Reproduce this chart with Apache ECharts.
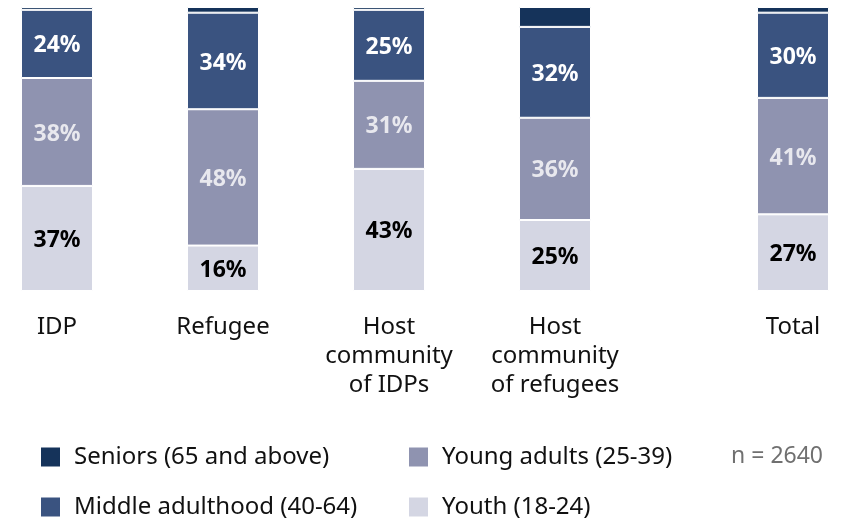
<!DOCTYPE html>
<html>
<head>
<meta charset="utf-8">
<script src="https://cdn.jsdelivr.net/npm/echarts@6/dist/echarts.min.js"></script>
<style>
  html, body { margin: 0; padding: 0; background: #fff; }
  #chart { width: 846px; height: 523px; }
</style>
</head>
<body>
<div id="chart"></div>
<script>
// Age group shares (%) per population group
const groups = ['IDP', 'Refugee', 'Host\ncommunity\nof IDPs', 'Host\ncommunity\nof refugees'];
const totalGroup = ['Total'];
const seniors = [1, 2, 1, 7, 2];
const middle = [24, 34, 25, 32, 30];
const youngAdults = [38, 48, 31, 36, 41];
const youth = [37, 16, 43, 25, 27];
const sampleNote = 'n = 2640';

const seriesDefs = [
  { name: 'Youth (18-24)', values: youth, color: '#d4d6e3', labelColor: '#000000', showLabel: true },
  { name: 'Young adults (25-39)', values: youngAdults, color: '#8f93b0', labelColor: '#e8e8ee', showLabel: true },
  { name: 'Middle adulthood (40-64)', values: middle, color: '#3a5380', labelColor: '#ffffff', showLabel: true },
  { name: 'Seniors (65 and above)', values: seniors, color: '#15335a', labelColor: '#ffffff', showLabel: false }
];

const FONT = 'Noto Sans';

function makeSeries(gridIdx, from, to) {
  return seriesDefs.map(d => ({
    name: d.name,
    type: 'bar',
    stack: 'age' + gridIdx,
    xAxisIndex: gridIdx,
    yAxisIndex: gridIdx,
    barWidth: 72,
    data: d.values.slice(from, to),
    itemStyle: { color: d.color, borderColor: '#ffffff', borderWidth: 1 },
    label: {
      show: d.showLabel,
      position: 'inside',
      offset: [0, 2],
      formatter: p => p.value + '%',
      color: d.labelColor,
      fontFamily: FONT,
      fontWeight: 'bold',
      fontSize: 23
    },
    emphasis: { disabled: true }
  }));
}

const axisLabelStyle = {
  fontFamily: FONT,
  fontSize: 24,
  lineHeight: 29,
  color: '#111111',
  margin: 22,
  interval: 0
};

// one legend entry per box so the two-column layout is explicit
function legendItem(name, left, top) {
  return {
    orient: 'vertical',
    left: left,
    top: top,
    padding: 0,
    itemWidth: 21,
    itemHeight: 21,
    icon: 'rect',
    selectedMode: false,
    data: [name],
    textStyle: { fontFamily: FONT, fontSize: 24, color: '#111111', padding: [0, 0, 0, 8] }
  };
}

const chart = echarts.init(document.getElementById('chart'), null, { renderer: 'canvas' });
chart.setOption({
  animation: false,
  backgroundColor: '#ffffff',
  grid: [
    { left: 57, right: 291, top: 7, bottom: 232 },
    { left: 753, right: 13, top: 7, bottom: 232 }
  ],
  xAxis: [
    {
      type: 'category', gridIndex: 0, data: groups, boundaryGap: false,
      axisLine: { show: false }, axisTick: { show: false }, axisLabel: axisLabelStyle
    },
    {
      type: 'category', gridIndex: 1, data: totalGroup, boundaryGap: true,
      axisLine: { show: false }, axisTick: { show: false }, axisLabel: axisLabelStyle
    }
  ],
  yAxis: [
    { type: 'value', gridIndex: 0, min: 0, max: 100, show: false },
    { type: 'value', gridIndex: 1, min: 0, max: 100, show: false }
  ],
  legend: [
    legendItem('Seniors (65 and above)', 39, 445),
    legendItem('Middle adulthood (40-64)', 39, 495),
    legendItem('Young adults (25-39)', 407, 445),
    legendItem('Youth (18-24)', 407, 495)
  ],
  graphic: [{
    type: 'text',
    right: 23,
    top: 445,
    style: { text: sampleNote, fontFamily: FONT, fontSize: 23, fill: '#707070' }
  }],
  series: makeSeries(0, 0, 4).concat(makeSeries(1, 4, 5))
});
</script>
</body>
</html>
